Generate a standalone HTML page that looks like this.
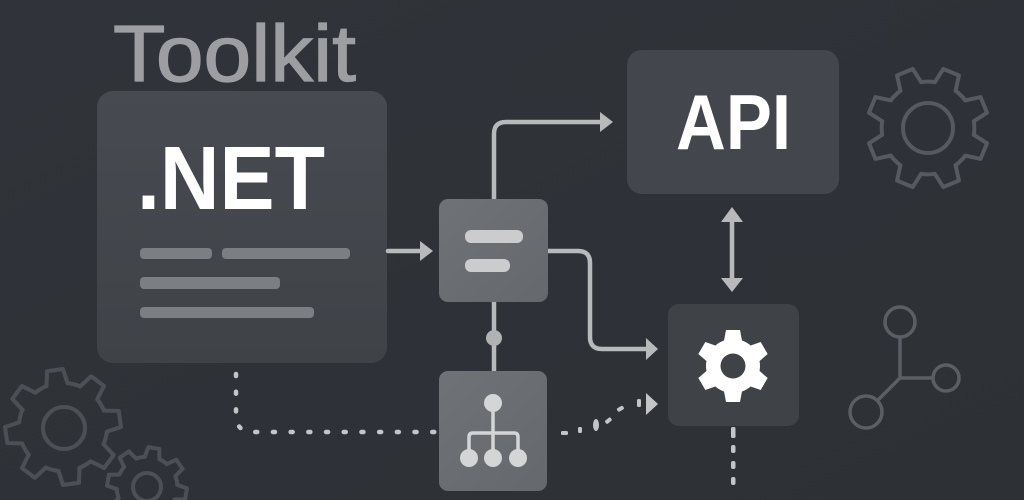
<!DOCTYPE html>
<html><head><meta charset="utf-8">
<style>
html,body{margin:0;padding:0;background:#2f3338;width:1024px;height:500px;overflow:hidden;}
svg{display:block;position:absolute;left:0;top:0;}
</style></head>
<body>
<svg width="1024" height="500" viewBox="0 0 1024 500" xmlns="http://www.w3.org/2000/svg">
<defs>
  <linearGradient id="bg" x1="0" y1="0" x2="1" y2="1">
    <stop offset="0" stop-color="#30343a"/>
    <stop offset="1" stop-color="#2d3136"/>
  </linearGradient>
  <linearGradient id="net" x1="0" y1="0" x2="0" y2="1">
    <stop offset="0" stop-color="#474b51"/>
    <stop offset="1" stop-color="#3f4348"/>
  </linearGradient>
  <linearGradient id="mid" x1="0" y1="0" x2="1" y2="1">
    <stop offset="0" stop-color="#6f7276"/>
    <stop offset="1" stop-color="#65686c"/>
  </linearGradient>
  <g id="tooth">
    <path d="M73.7,-18.4 L99,-13.9 L99,13.9 L73.7,18.4 A76,76 0 0 1 65.15,39.14" fill="none" stroke-linejoin="round" stroke-linecap="round"/>
  </g>
  <g id="gear8">
    <use href="#tooth" transform="rotate(0)"/>
    <use href="#tooth" transform="rotate(45)"/>
    <use href="#tooth" transform="rotate(90)"/>
    <use href="#tooth" transform="rotate(135)"/>
    <use href="#tooth" transform="rotate(180)"/>
    <use href="#tooth" transform="rotate(225)"/>
    <use href="#tooth" transform="rotate(270)"/>
    <use href="#tooth" transform="rotate(315)"/>
  </g>
</defs>

<rect width="1024" height="500" fill="url(#bg)"/>

<!-- background gears -->
<g stroke="#4c5056" fill="none">
  <use href="#gear8" transform="translate(63,427) rotate(-8) scale(0.58)" stroke-width="7"/>
  <circle cx="64" cy="428" r="21" stroke-width="4"/>
  <use href="#gear8" transform="translate(147,487) rotate(10) scale(0.4)" stroke-width="10"/>
  <circle cx="147" cy="487" r="14" stroke-width="4"/>
</g>
<g stroke="#565a60" fill="none">
  <use href="#gear8" transform="translate(928,128) rotate(-22.5) scale(0.61)" stroke-width="6.5"/>
  <circle cx="928" cy="128" r="25" stroke-width="4"/>
</g>

<!-- network icon -->
<g stroke="#5b5f65" stroke-width="3.5" fill="none">
  <circle cx="900" cy="322" r="15"/>
  <circle cx="946" cy="378" r="13"/>
  <circle cx="866" cy="412" r="16"/>
  <path d="M900,337 L900,378 L933,378 M900,378 L877,401"/>
</g>

<!-- Toolkit title -->
<text x="113" y="81" font-family="Liberation Sans, sans-serif" font-size="80" fill="#9c9ea1" stroke="#9c9ea1" stroke-width="1.2" textLength="243" lengthAdjust="spacingAndGlyphs">Toolkit</text>

<!-- .NET box -->
<rect x="97" y="91" width="290" height="272" rx="16" fill="url(#net)"/>
<text x="137" y="209" font-family="Liberation Sans, sans-serif" font-weight="bold" font-size="90" fill="#ffffff" textLength="188" lengthAdjust="spacingAndGlyphs">.NET</text>
<g fill="#7b7e82">
  <rect x="140" y="248" width="72" height="11" rx="4"/>
  <rect x="222" y="248" width="128" height="11" rx="4"/>
  <rect x="140" y="277" width="140" height="12" rx="4"/>
  <rect x="140" y="307" width="174" height="11" rx="4"/>
</g>

<!-- connectors -->
<g stroke="#b7b9bb" stroke-width="4.5" fill="none" stroke-linecap="round">
  <path d="M388,251 L422,251"/>
  <path d="M494,199 L494,134 Q494,122 506,122 L602,122"/>
  <path d="M548,251 L578,251 Q590,251 590,263 L590,337 Q590,349 602,349 L647,349"/>
  <path d="M494,302 L494,371"/>
  <path d="M732,220 L732,280"/>
</g>
<g fill="#b7b9bb">
  <polygon points="420,241 433,251 420,261"/>
  <polygon points="600,112 613,122 600,132"/>
  <polygon points="646,338 658,349 646,360"/>
  <polygon points="721,222 732,207 743,222"/>
  <polygon points="721,278 732,292 743,278"/>
  <circle cx="494" cy="338" r="8" fill="#b0b2b4"/>
</g>

<!-- dotted from .NET -->
<path d="M236,374 L236,415 Q236,432 253,432 L440,432" fill="none" stroke="#c4c5c7" stroke-width="4.5" stroke-linecap="round" stroke-dasharray="2 15.7"/>

<!-- dotted to gear -->
<g fill="#c4c5c7">
  <rect x="561" y="431" width="7" height="4" rx="1.5"/>
  <rect x="578" y="427" width="4" height="6" rx="1.5"/>
  <ellipse cx="596" cy="425" rx="3" ry="6"/>
  <rect x="605" y="419" width="7" height="4" rx="1.5" transform="rotate(-40 608 421)"/>
  <rect x="617" y="407" width="7" height="4" rx="1.5" transform="rotate(-30 620 409)"/>
  <rect x="637" y="399" width="4" height="8" rx="1.5"/>
  <polygon points="646,393 658,404 646,415"/>
</g>

<!-- filter box -->
<rect x="439" y="199" width="109" height="103" rx="9" fill="url(#mid)"/>
<g fill="#cbcccd">
  <rect x="465" y="230" width="58" height="13" rx="6"/>
  <rect x="465" y="259" width="45" height="13" rx="6"/>
</g>

<!-- tree box -->
<rect x="439" y="371" width="108" height="120" rx="9" fill="url(#mid)"/>
<g fill="#d4d5d6" stroke="#d4d5d6">
  <circle cx="493" cy="403" r="9" stroke="none"/>
  <path d="M493,410 L493,433 M469,450 L469,437 Q469,433 473,433 L514,433 Q518,433 518,437 L518,450 M493,433 L493,450" fill="none" stroke-width="3.5"/>
  <circle cx="469" cy="458" r="9" stroke="none"/>
  <circle cx="493" cy="458" r="9" stroke="none"/>
  <circle cx="518" cy="458" r="9" stroke="none"/>
</g>

<!-- API box -->
<rect x="627" y="50" width="212" height="144" rx="15" fill="#43474d"/>
<text x="676" y="149" font-family="Liberation Sans, sans-serif" font-weight="bold" font-size="78" fill="#ffffff" textLength="115" lengthAdjust="spacingAndGlyphs">API</text>

<!-- gear box -->
<rect x="668" y="304" width="131" height="122" rx="11" fill="#3f4348"/>
<g transform="translate(733,366)" fill="#ffffff">
  <circle r="27"/>
  <path d="M-7,-36 L7,-36 L10,-20 L-10,-20 Z"/>
  <path d="M-7,-36 L7,-36 L10,-20 L-10,-20 Z" transform="rotate(60)"/>
  <path d="M-7,-36 L7,-36 L10,-20 L-10,-20 Z" transform="rotate(120)"/>
  <path d="M-7,-36 L7,-36 L10,-20 L-10,-20 Z" transform="rotate(180)"/>
  <path d="M-7,-36 L7,-36 L10,-20 L-10,-20 Z" transform="rotate(240)"/>
  <path d="M-7,-36 L7,-36 L10,-20 L-10,-20 Z" transform="rotate(300)"/>
  <circle r="12.5" fill="#3f4348"/>
</g>

<!-- dotted below gear -->
<g fill="#c4c5c7">
  <rect x="731" y="427" width="4.5" height="11" rx="1.5"/>
  <rect x="731" y="445" width="4.5" height="8" rx="2"/>
  <rect x="731" y="461" width="4.5" height="8" rx="2"/>
  <rect x="731" y="477" width="4.5" height="8" rx="2"/>
</g>
</svg>
</body></html>
